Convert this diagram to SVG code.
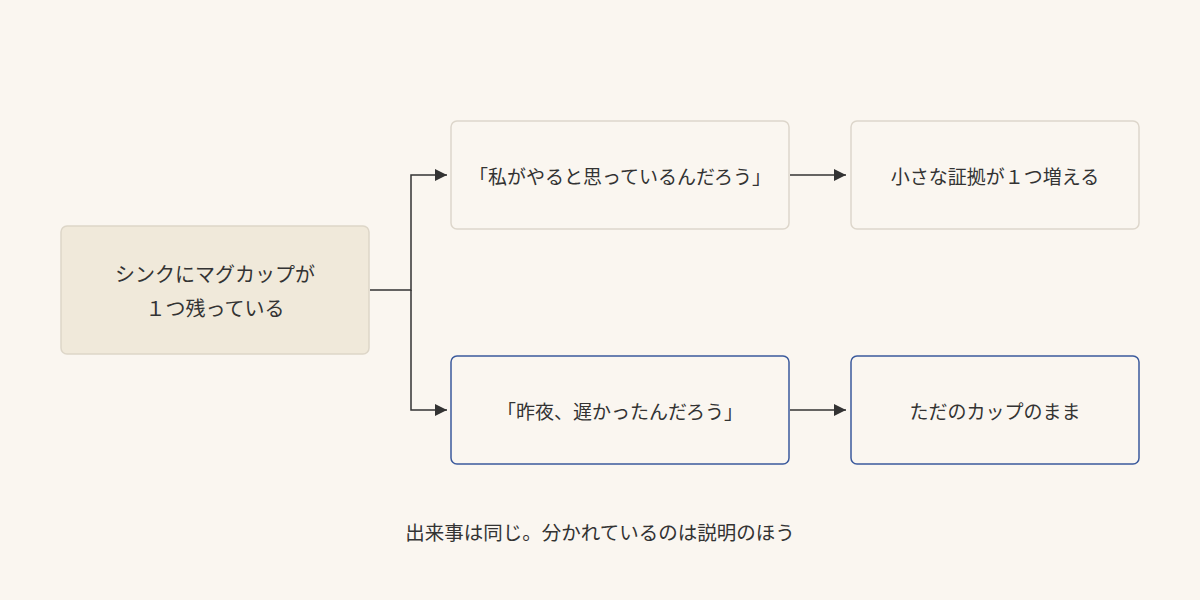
<svg xmlns="http://www.w3.org/2000/svg" width="1200" height="600" viewBox="0 0 1200 600">
<style>
  .t{font-family:"Noto Sans CJK JP","Noto Sans",sans-serif;font-size:19px;fill:#333;text-anchor:middle;dominant-baseline:central}
  .s{font-size:20px}
  .cap{font-size:19.5px}
  .n{fill:#faf6f0;stroke:#ddd6cb;stroke-width:1.5}
  .src{fill:#f0e9da;stroke:#ddd6c8;stroke-width:1.5}
  .b{fill:#faf6f0;stroke:#3b5a9c;stroke-width:1.5}
  .c{fill:none;stroke:#333;stroke-width:1.5}
</style>
<defs>
  <marker id="ah" viewBox="0 0 10 10" refX="10" refY="5" markerWidth="12" markerHeight="12" markerUnits="userSpaceOnUse" orient="auto">
    <path d="M0,0 L10,5 L0,10 z" fill="#333"/>
  </marker>
</defs>
<rect width="1200" height="600" fill="#faf6f0"/>
<g id="connectors">
  <path class="c" d="M370,290 H411 V175 H447" marker-end="url(#ah)"/>
  <path class="c" d="M411,290 V410 H447" marker-end="url(#ah)"/>
  <path class="c" d="M790,175 H846" marker-end="url(#ah)"/>
  <path class="c" d="M790,410 H846" marker-end="url(#ah)"/>
</g>
<g id="source">
  <rect class="src" x="61" y="226" width="308" height="128" rx="6"/>
  <text class="t s" x="215" y="273">シンクにマグカップが</text>
  <text class="t s" x="215" y="307">１つ残っている</text>
</g>
<g id="belief1">
  <rect class="n" x="451" y="121" width="338" height="108" rx="6"/>
  <text class="t" x="620" y="175">「私がやると思っているんだろう」</text>
</g>
<g id="result1">
  <rect class="n" x="851" y="121" width="288" height="108" rx="6"/>
  <text class="t" x="995" y="175">小さな証拠が１つ増える</text>
</g>
<g id="belief2">
  <rect class="b" x="451" y="356" width="338" height="108" rx="6"/>
  <text class="t" x="620" y="410">「昨夜、遅かったんだろう」</text>
</g>
<g id="result2">
  <rect class="b" x="851" y="356" width="288" height="108" rx="6"/>
  <text class="t" x="995" y="410">ただのカップのまま</text>
</g>
<g id="caption">
  <text class="t cap" x="600" y="531">出来事は同じ。分かれているのは説明のほう</text>
</g>
</svg>
